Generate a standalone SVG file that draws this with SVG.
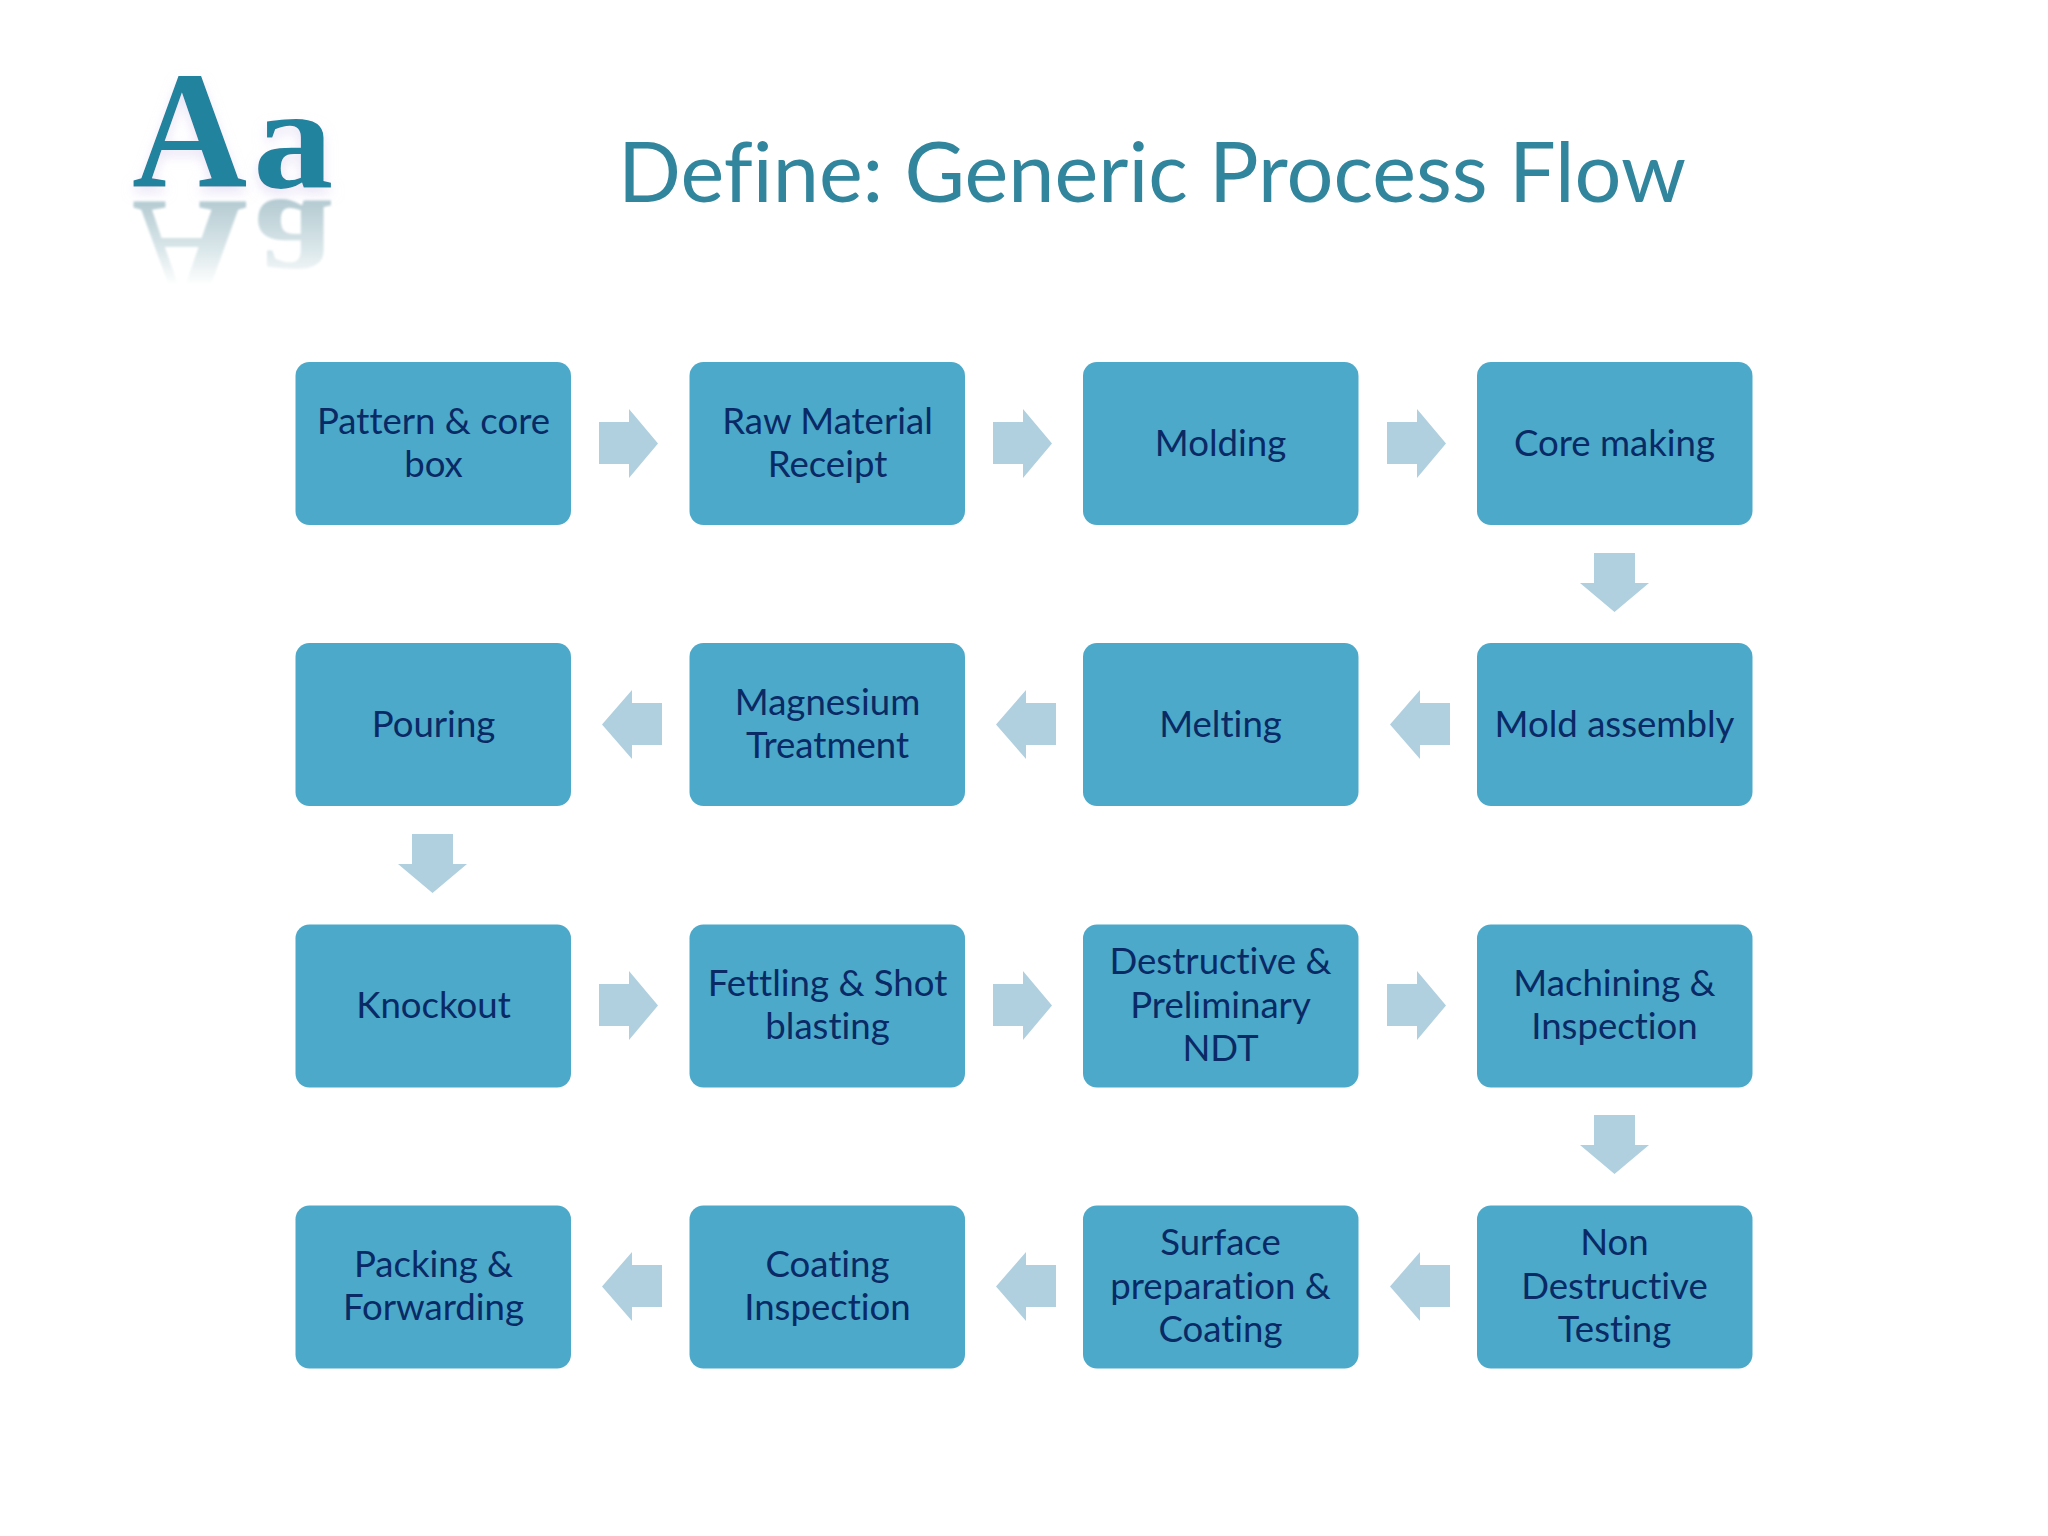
<svg xmlns="http://www.w3.org/2000/svg" width="2048" height="1536" viewBox="0 0 2048 1536">
<defs>
<style>
.b{fill:#4CA9C9}
.t{font-family:"Lato","Carlito","Liberation Sans",sans-serif;font-size:36.6px;fill:#0A2A66;text-anchor:middle;font-variant-ligatures:none}
.a{fill:#B0D0E0}
.l{font-family:"Liberation Serif",serif;font-weight:700}
</style>
<linearGradient id="rf" gradientUnits="userSpaceOnUse" x1="0" y1="0" x2="0" y2="-84"><stop offset="0" stop-color="#B4CBD2"/><stop offset="0.6" stop-color="#DCE8EB"/><stop offset="1" stop-color="#FFFFFF"/></linearGradient>
<filter id="s" x="-30%" y="-30%" width="160%" height="160%"><feGaussianBlur in="SourceAlpha" stdDeviation="6" result="h"/><feOffset in="h" dy="6" result="o"/><feFlood flood-color="#D9CFF0" flood-opacity="0.55"/><feComposite in2="o" operator="in" result="g"/><feGaussianBlur in="SourceGraphic" stdDeviation="0.6" result="t"/><feMerge><feMergeNode in="g"/><feMergeNode in="t"/></feMerge></filter>
<filter id="r" x="-10%" y="-10%" width="120%" height="120%"><feGaussianBlur stdDeviation="1.2"/></filter>
<path id="ar" d="M599 422H629V409L658 443.5L629 478V464H599Z"/>
<path id="al" d="M662 422H632V409L602 443.5L632 478V464H662Z"/>
<path id="ad" d="M0 0H41V30H55L20.500 59L-14 30H0Z"/>
</defs>
<rect width="2048" height="1536" fill="#FFFFFF"/>
<g id="logo">
<g transform="translate(0,388) scale(1,-1)" filter="url(#r)">
<text class="l" transform="translate(132,187) scale(0.95,1)" font-size="168" fill="url(#rf)">A</text>
<text class="l" transform="translate(253,187) scale(1.1,1)" font-size="146" fill="url(#rf)">a</text>
</g>
<text class="l" transform="translate(132,187) scale(0.95,1)" font-size="168" fill="#22839F" filter="url(#s)">A</text>
<text class="l" transform="translate(253,187) scale(1.1,1)" font-size="146" fill="#22839F" filter="url(#s)">a</text>
</g>
<text id="title" x="618" y="202" textLength="1068" lengthAdjust="spacingAndGlyphs" font-family="Lato,Carlito,sans-serif" font-size="84" fill="#31859C" style="font-variant-ligatures:none">Define: Generic Process Flow</text>
<g id="connectors" class="a">
<use href="#ar"/><use href="#ar" x="394"/><use href="#ar" x="788"/>
<use href="#ad" x="1594" y="553"/>
<use href="#al" y="281"/><use href="#al" x="394" y="281"/><use href="#al" x="788" y="281"/>
<use href="#ad" x="412" y="834"/>
<use href="#ar" y="562"/><use href="#ar" x="394" y="562"/><use href="#ar" x="788" y="562"/>
<use href="#ad" x="1594" y="1115"/>
<use href="#al" y="843"/><use href="#al" x="394" y="843"/><use href="#al" x="788" y="843"/>
</g>
<g id="n1"><rect class="b" x="295.500" y="362" width="275.500" height="163" rx="14"/><text class="t" x="433.500" y="434">Pattern &amp; core</text><text class="t" x="433.500" y="477">box</text></g>
<g id="n2"><rect class="b" x="689.500" y="362" width="275.500" height="163" rx="14"/><text class="t" x="827.500" y="434">Raw Material</text><text class="t" x="827.500" y="477">Receipt</text></g>
<g id="n3"><rect class="b" x="1083" y="362" width="275.500" height="163" rx="14"/><text class="t" x="1220.500" y="456">Molding</text></g>
<g id="n4"><rect class="b" x="1477" y="362" width="275.500" height="163" rx="14"/><text class="t" x="1614.500" y="456">Core making</text></g>
<g id="n5"><rect class="b" x="295.500" y="643" width="275.500" height="163" rx="14"/><text class="t" x="433.500" y="737">Pouring</text></g>
<g id="n6"><rect class="b" x="689.500" y="643" width="275.500" height="163" rx="14"/><text class="t" x="827.500" y="715">Magnesium</text><text class="t" x="827.500" y="758">Treatment</text></g>
<g id="n7"><rect class="b" x="1083" y="643" width="275.500" height="163" rx="14"/><text class="t" x="1220.500" y="737">Melting</text></g>
<g id="n8"><rect class="b" x="1477" y="643" width="275.500" height="163" rx="14"/><text class="t" x="1614.500" y="737">Mold assembly</text></g>
<g id="n9"><rect class="b" x="295.500" y="924.500" width="275.500" height="163" rx="14"/><text class="t" x="433.500" y="1018">Knockout</text></g>
<g id="n10"><rect class="b" x="689.500" y="924.500" width="275.500" height="163" rx="14"/><text class="t" x="827.500" y="996">Fettling &amp; Shot</text><text class="t" x="827.500" y="1039">blasting</text></g>
<g id="n11"><rect class="b" x="1083" y="924.500" width="275.500" height="163" rx="14"/><text class="t" x="1220.500" y="974">Destructive &amp;</text><text class="t" x="1220.500" y="1018">Preliminary</text><text class="t" x="1220.500" y="1061">NDT</text></g>
<g id="n12"><rect class="b" x="1477" y="924.500" width="275.500" height="163" rx="14"/><text class="t" x="1614.500" y="996">Machining &amp;</text><text class="t" x="1614.500" y="1039">Inspection</text></g>
<g id="n13"><rect class="b" x="295.500" y="1205.500" width="275.500" height="163" rx="14"/><text class="t" x="433.500" y="1277">Packing &amp;</text><text class="t" x="433.500" y="1320">Forwarding</text></g>
<g id="n14"><rect class="b" x="689.500" y="1205.500" width="275.500" height="163" rx="14"/><text class="t" x="827.500" y="1277">Coating</text><text class="t" x="827.500" y="1320">Inspection</text></g>
<g id="n15"><rect class="b" x="1083" y="1205.500" width="275.500" height="163" rx="14"/><text class="t" x="1220.500" y="1255">Surface</text><text class="t" x="1220.500" y="1299">preparation &amp;</text><text class="t" x="1220.500" y="1342">Coating</text></g>
<g id="n16"><rect class="b" x="1477" y="1205.500" width="275.500" height="163" rx="14"/><text class="t" x="1614.500" y="1255">Non</text><text class="t" x="1614.500" y="1299">Destructive</text><text class="t" x="1614.500" y="1342">Testing</text></g>
</svg>
